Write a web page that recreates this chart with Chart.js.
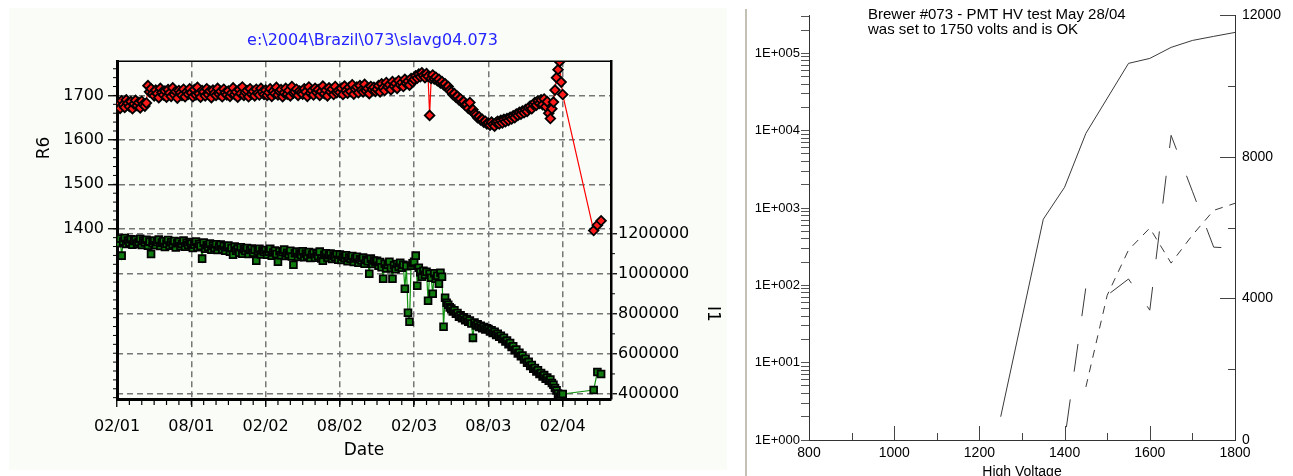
<!DOCTYPE html>
<html>
<head>
<meta charset="utf-8">
<title>Brewer #073</title>
<script src="https://cdn.jsdelivr.net/npm/chart.js@4.4.1/dist/chart.umd.min.js"></script>
<style>
  html, body { margin: 0; padding: 0; background: #fff; }
  body { width: 1293px; height: 476px; position: relative; overflow: hidden; }
  #leftPanel { position: absolute; left: 9px; top: 8px; width: 718px; height: 462px; background: #fafcf7; }
  #sep { position: absolute; left: 745px; top: 9px; width: 2px; height: 467px; background: #c4c0b6; }
  #leftChart { position: absolute; left: 0; top: 0; }
  #rightChart { position: absolute; left: 746px; top: 0; }
</style>
</head>
<body>
<div id="leftPanel"></div>
<div id="sep"></div>
<canvas id="leftChart" width="745" height="476"></canvas>
<canvas id="rightChart" width="547" height="476"></canvas>
<script>
// ===============================
// Brewer #073 - R6 / I1 history + PMT HV test
// ===============================

// ---------- Left panel data ----------

const dateTickMonths = [0, 6, 12, 18, 24, 30, 36];
const dateTickLabels = ["02/01", "08/01", "02/02", "08/02", "02/03", "08/03", "02/04"];
const r6Ticks = [1400, 1500, 1600, 1700];
const i1Ticks = [400000, 600000, 800000, 1000000, 1200000];

// months since Feb 2001
const months = [
    0, 0.125, 0.25, 0.375, 0.5, 0.625, 0.75, 0.875, 1, 1.125, 1.25, 1.375, 1.5, 1.625, 1.75, 1.875, 2, 2.125, 2.25, 2.375, 2.5, 2.625, 2.75, 2.875,
    3, 3.125, 3.25, 3.375, 3.5, 3.625, 3.75, 3.875, 4, 4.125, 4.25, 4.375, 4.5, 4.625, 4.75, 4.875, 5, 5.125, 5.25, 5.375, 5.5, 5.625, 5.75, 5.875,
    6, 6.125, 6.25, 6.375, 6.5, 6.625, 6.75, 6.875, 7, 7.125, 7.25, 7.375, 7.5, 7.625, 7.75, 7.875, 8, 8.125, 8.25, 8.375, 8.5, 8.625, 8.75, 8.875,
    9, 9.125, 9.25, 9.375, 9.5, 9.625, 9.75, 9.875, 10, 10.125, 10.25, 10.375, 10.5, 10.625, 10.75, 10.875, 11, 11.125, 11.25, 11.375, 11.5, 11.625, 11.75, 11.875,
    12, 12.125, 12.25, 12.375, 12.5, 12.625, 12.75, 12.875, 13, 13.125, 13.25, 13.375, 13.5, 13.625, 13.75, 13.875, 14, 14.125, 14.25, 14.375, 14.5, 14.625, 14.75, 14.875,
    15, 15.125, 15.25, 15.375, 15.5, 15.625, 15.75, 15.875, 16, 16.125, 16.25, 16.375, 16.5, 16.625, 16.75, 16.875, 17, 17.125, 17.25, 17.375, 17.5, 17.625, 17.75, 17.875,
    18, 18.125, 18.25, 18.375, 18.5, 18.625, 18.75, 18.875, 19, 19.125, 19.25, 19.375, 19.5, 19.625, 19.75, 19.875, 20, 20.125, 20.25, 20.375, 20.5, 20.625, 20.75, 20.875,
    21, 21.125, 21.25, 21.375, 21.5, 21.625, 21.75, 21.875, 22, 22.125, 22.25, 22.375, 22.5, 22.625, 22.75, 22.875, 23, 23.125, 23.25, 23.375, 23.5, 23.625, 23.75, 23.875,
    24, 24.125, 24.25, 24.375, 24.5, 24.625, 24.75, 24.875, 25, 25.125, 25.25, 25.375, 25.5, 25.625, 25.75, 25.875, 26, 26.125, 26.25, 26.375, 26.5, 26.625, 26.75, 26.875,
    27, 27.125, 27.25, 27.375, 27.5, 27.625, 27.75, 27.875, 28, 28.125, 28.25, 28.375, 28.5, 28.625, 28.75, 28.875, 29, 29.125, 29.25, 29.375, 29.5, 29.625, 29.75, 29.875,
    30, 30.125, 30.25, 30.375, 30.5, 30.625, 30.75, 30.875, 31, 31.125, 31.25, 31.375, 31.5, 31.625, 31.75, 31.875, 32, 32.125, 32.25, 32.375, 32.5, 32.625, 32.75, 32.875,
    33, 33.125, 33.25, 33.375, 33.5, 33.625, 33.75, 33.875, 34, 34.125, 34.25, 34.375, 34.5, 34.625, 34.75, 34.875, 35, 35.125, 35.25, 35.375, 35.5, 35.625, 35.75, 35.875,
    36, 38.5, 38.8, 39.1
];

const r6Values = [
    1676, 1684, 1671, 1688, 1679, 1673, 1690, 1682, 1675, 1686, 1670, 1681, 1689, 1677, 1684, 1672, 1687, 1680, 1676, 1683, 1722, 1708, 1715, 1704,
    1699, 1712, 1704, 1695, 1716, 1707, 1701, 1710, 1696, 1713, 1705, 1698, 1717, 1702, 1709, 1694, 1711, 1706, 1700, 1714, 1697, 1708, 1703, 1715,
    1706, 1697, 1713, 1701, 1718, 1704, 1696, 1711, 1708, 1699, 1715, 1702, 1710, 1695, 1712, 1705, 1700, 1716, 1703, 1709, 1697, 1714, 1706, 1701,
    1710, 1698, 1705, 1717, 1702, 1708, 1696, 1713, 1704, 1719, 1700, 1707, 1711, 1697, 1715, 1703, 1709, 1699, 1714, 1705, 1701, 1716, 1708, 1702,
    1712, 1700, 1707, 1715, 1698, 1710, 1704, 1718, 1701, 1709, 1713, 1697, 1706, 1716, 1703, 1711, 1699, 1720, 1705, 1708, 1714, 1700, 1710, 1706,
    1703, 1715, 1708, 1698, 1719, 1705, 1711, 1701, 1716, 1707, 1713, 1700, 1709, 1721, 1704, 1712, 1699, 1717, 1708, 1714, 1702, 1720, 1706, 1711,
    1707, 1716, 1702, 1721, 1711, 1705, 1718, 1709, 1724, 1703, 1714, 1719, 1706, 1722, 1712, 1708, 1725, 1710, 1716, 1704, 1720, 1713, 1718, 1709,
    1714, 1722, 1708, 1726, 1717, 1711, 1729, 1719, 1724, 1713, 1731, 1721, 1727, 1716, 1733, 1724, 1729, 1720, 1736, 1727, 1732, 1723, 1738, 1730,
    1736, 1744, 1739, 1748, 1742, 1751, 1745, 1740, 1749, 1743, 1655, 1738, 1746, 1737, 1741, 1733, 1736, 1728, 1731, 1724, 1726, 1718, 1720, 1712,
    1708, 1702, 1704, 1696, 1698, 1690, 1692, 1684, 1686, 1678, 1680, 1671, 1684, 1666, 1668, 1659, 1656, 1650, 1652, 1645, 1646, 1640, 1642, 1636,
    1638, 1633, 1640, 1635, 1631, 1639, 1642, 1636, 1644, 1638, 1646, 1641, 1648, 1644, 1651, 1647, 1654, 1650, 1658, 1655, 1662, 1658, 1665, 1661,
    1668, 1664, 1672, 1676, 1670, 1680, 1684, 1678, 1688, 1682, 1690, 1679, 1692, 1675, 1686, 1660, 1648, 1670, 1685, 1712, 1740, 1758, 1776, 1730,
    1702, 1396, 1408, 1418
];

const i1Values = [
    1168000, 1152000, 1175000, 1090000, 1160000, 1178000, 1148000, 1166000, 1155000, 1172000, 1145000, 1163000, 1170000, 1150000, 1158000, 1174000, 1143000, 1165000, 1156000, 1169000, 1140000, 1160000, 1098000, 1152000,
    1165000, 1142000, 1158000, 1170000, 1138000, 1155000, 1162000, 1133000, 1150000, 1168000, 1140000, 1157000, 1146000, 1163000, 1131000, 1152000, 1160000, 1137000, 1148000, 1165000, 1135000, 1154000, 1143000, 1158000,
    1150000, 1128000, 1145000, 1160000, 1132000, 1148000, 1138000, 1075000, 1155000, 1125000, 1142000, 1133000, 1150000, 1120000, 1140000, 1128000, 1147000, 1118000, 1136000, 1145000, 1122000, 1138000, 1115000, 1132000,
    1140000, 1110000, 1128000, 1095000, 1135000, 1115000, 1125000, 1105000, 1132000, 1100000, 1122000, 1113000, 1128000, 1098000, 1118000, 1126000, 1104000, 1120000, 1065000, 1112000, 1124000, 1096000, 1116000, 1108000,
    1118000, 1095000, 1110000, 1124000, 1090000, 1106000, 1115000, 1098000, 1060000, 1112000, 1092000, 1108000, 1120000, 1088000, 1104000, 1096000, 1114000, 1086000, 1045000, 1102000, 1110000, 1083000, 1100000, 1092000,
    1112000, 1082000, 1100000, 1090000, 1108000, 1078000, 1096000, 1104000, 1080000, 1098000, 1088000, 1110000, 1076000, 1065000, 1094000, 1102000, 1079000, 1092000, 1100000, 1074000, 1090000, 1083000, 1097000, 1070000,
    1095000, 1068000, 1086000, 1078000, 1092000, 1062000, 1080000, 1074000, 1088000, 1058000, 1076000, 1084000, 1055000, 1072000, 1066000, 1080000, 1050000, 1070000, 1062000, 1000000, 1075000, 1048000, 1066000, 1058000,
    1065000, 1040000, 1058000, 1032000, 975000, 1050000, 1026000, 1045000, 1060000, 1028000, 975000, 1042000, 1022000, 1048000, 1035000, 1055000, 1030000, 1045000, 925000, 1038000, 805000, 760000, 1040000, 1052000,
    1060000, 1090000, 940000, 1030000, 1008000, 985000, 1015000, 995000, 1010000, 865000, 1000000, 980000, 900000, 1002000, 975000, 990000, 950000, 1005000, 985000, 735000, 880000, 855000, 845000, 832000,
    826000, 812000, 818000, 800000, 804000, 786000, 792000, 778000, 782000, 768000, 774000, 760000, 766000, 752000, 680000, 756000, 742000, 748000, 734000, 740000, 728000, 734000, 722000, 728000,
    724000, 712000, 718000, 704000, 710000, 695000, 700000, 686000, 690000, 674000, 680000, 662000, 666000, 648000, 654000, 634000, 638000, 618000, 622000, 602000, 606000, 588000, 592000, 572000,
    576000, 556000, 560000, 540000, 545000, 526000, 530000, 512000, 518000, 500000, 505000, 488000, 494000, 476000, 482000, 466000, 472000, 455000, 446000, 430000, 418000, 402000, 386000, 398000,
    400000, 420000, 510000, 500000
];

// ---------- Right panel data ----------

const hvVolts = [1250, 1300, 1350, 1400, 1450, 1500, 1550, 1600, 1650, 1700, 1750, 1800];
const countsSolid = [2, null, 717, 1860, 9250, null, 74300, 86100, 119600, 147000, 166000, 186700];
const ratioLongDash = [null, null, null, 0, 4320, 4090, 4550, 3670, 8610, 7030, 5450, 5420];
const ratioShortDash = [null, null, null, null, 1500, 4090, 5370, 5990, 5000, 5790, 6490, 6690];

const hvTicks = [800, 1000, 1200, 1400, 1600, 1800];
const logDecades = [1, 10, 100, 1000, 10000, 100000];
const logSteps = [1, 2, 3, 4, 5, 6, 7, 8, 9];
const linTicks = [0, 4000, 8000, 12000];

const LEFT_FONT = "DejaVu Sans";
const RIGHT_FONT = "Liberation Sans";

// ---------- Left chart decorations ----------

const leftDecor = {
    id: "leftDecor",
    afterDraw(chart) {
        const { ctx, chartArea: area, scales } = chart;
        ctx.save();
        ctx.strokeStyle = "#000";

        // thin top frame line
        ctx.lineWidth = 1.5;
        ctx.beginPath();
        ctx.moveTo(area.left, area.top);
        ctx.lineTo(area.right, area.top);
        ctx.stroke();

        // monthly ticks under the date axis
        ctx.lineWidth = 1.2;
        for (let m = 1; m <= 39; m++) {
            const x = scales.x.getPixelForValue(m);
            ctx.beginPath();
            ctx.moveTo(x, area.bottom);
            ctx.lineTo(x, area.bottom + 6);
            ctx.stroke();
        }

        // small ticks on the R6 axis
        ctx.lineWidth = 1;
        for (let v = 1020; v <= 1760; v += 20) {
            const y = scales.y.getPixelForValue(v);
            ctx.beginPath();
            ctx.moveTo(area.left - 4, y);
            ctx.lineTo(area.left, y);
            ctx.stroke();
        }

        // small ticks on the I1 axis
        for (let v = 500000; v <= 1100000; v += 200000) {
            const y = scales.y1.getPixelForValue(v);
            ctx.beginPath();
            ctx.moveTo(area.right, y);
            ctx.lineTo(area.right + 4, y);
            ctx.stroke();
        }

        // axis titles
        ctx.fillStyle = "#000";
        ctx.font = "17px '" + LEFT_FONT + "'";
        ctx.textAlign = "center";
        ctx.textBaseline = "middle";

        ctx.save();
        ctx.translate(45, 148);
        ctx.rotate(-Math.PI / 2);
        ctx.fillText("R6", 0, 0);
        ctx.restore();

        ctx.save();
        ctx.translate(712, 314);
        ctx.rotate(Math.PI / 2);
        ctx.fillText("I1", 0, 0);
        ctx.restore();

        ctx.restore();
    }
};

const gridDash = [6, 4];

new Chart(document.getElementById("leftChart"), {
    type: "line",
    data: {
        datasets: [{
            label: "R6",
            data: months.map((m, i) => ({ x: m, y: r6Values[i] })),
            yAxisID: "y",
            borderColor: "#ff0000",
            borderWidth: 1.2,
            pointStyle: "rectRot",
            pointRadius: 4.8,
            pointBackgroundColor: "#ff1a1a",
            pointBorderColor: "#000",
            pointBorderWidth: 1.8
        }, {
            label: "I1",
            data: months.map((m, i) => ({ x: m, y: i1Values[i] })),
            yAxisID: "y1",
            borderColor: "#129412",
            borderWidth: 1.2,
            pointStyle: "rect",
            pointRadius: 4.8,
            pointBackgroundColor: "#107c10",
            pointBorderColor: "#000",
            pointBorderWidth: 1.8
        }]
    },
    options: {
        responsive: false,
        animation: false,
        events: [],
        layout: { padding: 0 },
        plugins: {
            legend: { display: false },
            tooltip: { enabled: false },
            title: {
                display: true,
                text: "e:\\2004\\Brazil\\073\\slavg04.073",
                color: "#2424ff",
                font: { family: LEFT_FONT, size: 16, weight: "normal" },
                padding: { top: 31, bottom: 11 }
            }
        },
        scales: {
            x: {
                type: "linear",
                min: 0,
                max: 39.9,
                afterBuildTicks: s => { s.ticks = dateTickMonths.map(v => ({ value: v })); },
                afterFit: s => { s.height = 77; },
                ticks: {
                    callback: (v, i) => dateTickLabels[i],
                    color: "#000",
                    font: { family: LEFT_FONT, size: 16 },
                    padding: 10,
                    autoSkip: false,
                    maxRotation: 0
                },
                grid: { color: "#777", lineWidth: 1.5, tickColor: "#000", tickLength: 8, tickWidth: 1.3, tickBorderDash: [] },
                border: { display: true, color: "#000", width: 3, dash: gridDash },
                title: {
                    display: true,
                    text: "Date",
                    color: "#000",
                    font: { family: LEFT_FONT, size: 17 },
                    padding: { top: 0, bottom: 15 }
                }
            },
            y: {
                type: "linear",
                position: "left",
                min: 1017,
                max: 1777,
                afterBuildTicks: s => { s.ticks = r6Ticks.map(v => ({ value: v })); },
                afterFit: s => { s.width = 117; },
                ticks: {
                    callback: v => String(v),
                    color: "#000",
                    font: { family: LEFT_FONT, size: 16 },
                    padding: 4,
                    autoSkip: false
                },
                grid: { color: "#777", lineWidth: 1.5, tickColor: "#000", tickLength: 9, tickWidth: 1.3, tickBorderDash: [] },
                border: { display: true, color: "#000", width: 3, dash: gridDash }
            },
            y1: {
                type: "linear",
                position: "right",
                min: 375000,
                max: 2060000,
                afterBuildTicks: s => { s.ticks = i1Ticks.map(v => ({ value: v })); },
                afterFit: s => { s.width = 134; },
                ticks: {
                    callback: v => String(v),
                    color: "#000",
                    font: { family: LEFT_FONT, size: 16 },
                    padding: 1,
                    autoSkip: false
                },
                grid: { color: "#777", lineWidth: 1.5, tickColor: "#000", tickLength: 6, tickWidth: 1.3, tickBorderDash: [] },
                border: { display: true, color: "#000", width: 2.5, dash: gridDash }
            }
        }
    },
    plugins: [leftDecor]
});

// ---------- Right chart decorations ----------

const rightDecor = {
    id: "rightDecor",
    afterDraw(chart) {
        const { ctx, chartArea: area, scales } = chart;
        ctx.save();
        ctx.strokeStyle = "#444";
        ctx.lineWidth = 1;

        // inside ticks on the voltage axis
        for (let v = 900; v < 1800; v += 100) {
            const x = Math.round(scales.x.getPixelForValue(v)) + 0.5;
            const len = v % 200 === 0 ? 14 : 7;
            ctx.beginPath();
            ctx.moveTo(x, area.bottom);
            ctx.lineTo(x, area.bottom - len);
            ctx.stroke();
        }

        // inside ticks on the right axis
        for (let v = 2000; v <= 12000; v += 2000) {
            const y = Math.round(scales.yLin.getPixelForValue(v)) + 0.5;
            const len = v % 4000 === 0 ? 15 : 7;
            ctx.beginPath();
            ctx.moveTo(area.right, y);
            ctx.lineTo(area.right - len, y);
            ctx.stroke();
        }

        // note
        ctx.fillStyle = "#000";
        ctx.font = "15px '" + RIGHT_FONT + "'";
        ctx.textAlign = "left";
        ctx.textBaseline = "alphabetic";
        ctx.fillText("Brewer #073 - PMT HV test May 28/04", 122, 18.5);
        ctx.fillText("was set to 1750 volts and is OK", 122, 33.5);

        ctx.restore();
    }
};

const logTickValues = [];
logDecades.forEach(d => {
    logSteps.forEach(m => {
        if (d * m <= 310000) logTickValues.push(d * m);
    });
});

const lineBase = {
    borderColor: "#3a3a3a",
    borderWidth: 1,
    pointRadius: 0,
    spanGaps: true,
    tension: 0
};

new Chart(document.getElementById("rightChart"), {
    type: "line",
    data: {
        datasets: [
            Object.assign({
                label: "counts",
                data: hvVolts.map((v, i) => ({ x: v, y: countsSolid[i] })),
                yAxisID: "yLog"
            }, lineBase),
            Object.assign({
                label: "long dash",
                data: hvVolts.map((v, i) => ({ x: v, y: ratioLongDash[i] })),
                yAxisID: "yLin",
                borderDash: [28, 28],
                borderDashOffset: 43
            }, lineBase),
            Object.assign({
                label: "short dash",
                data: hvVolts.map((v, i) => ({ x: v, y: ratioShortDash[i] })),
                yAxisID: "yLin",
                borderDash: [8, 7]
            }, lineBase)
        ]
    },
    options: {
        responsive: false,
        animation: false,
        events: [],
        layout: { padding: { top: 15, left: 0, right: 0, bottom: 0 } },
        plugins: {
            legend: { display: false },
            tooltip: { enabled: false }
        },
        scales: {
            x: {
                type: "linear",
                min: 800,
                max: 1800,
                afterBuildTicks: s => { s.ticks = hvTicks.map(v => ({ value: v })); },
                afterFit: s => { s.height = 36; },
                ticks: {
                    callback: v => String(v),
                    color: "#000",
                    font: { family: RIGHT_FONT, size: 14 },
                    padding: 5,
                    autoSkip: false,
                    maxRotation: 0
                },
                grid: { display: false, drawTicks: false },
                border: { display: true, color: "#333", width: 1 },
                title: {
                    display: true,
                    text: "High Voltage",
                    color: "#000",
                    font: { family: RIGHT_FONT, size: 14 },
                    padding: { top: 0, bottom: -5 }
                }
            },
            yLog: {
                type: "logarithmic",
                position: "left",
                min: 1,
                max: 310000,
                afterBuildTicks: s => { s.ticks = logTickValues.map(v => ({ value: v })); },
                afterFit: s => { s.width = 63; },
                ticks: {
                    autoSkip: false,
                    callback: v => logDecades.includes(v)
                        ? "1E+" + String(Math.round(Math.log10(v))).padStart(3, "0")
                        : "",
                    color: "#000",
                    font: { family: RIGHT_FONT, size: 13 },
                    padding: 1
                },
                grid: { drawOnChartArea: false, drawTicks: true, tickLength: 8, tickColor: "#555", tickWidth: 1 },
                border: { display: true, color: "#333", width: 1 }
            },
            yLin: {
                type: "linear",
                position: "right",
                min: 0,
                max: 12000,
                afterBuildTicks: s => { s.ticks = linTicks.map(v => ({ value: v })); },
                afterFit: s => { s.width = 58; },
                ticks: {
                    callback: v => String(v),
                    color: "#000",
                    font: { family: RIGHT_FONT, size: 14 },
                    padding: 7,
                    autoSkip: false
                },
                grid: { display: false, drawTicks: false },
                border: { display: true, color: "#333", width: 1 }
            }
        }
    },
    plugins: [rightDecor]
});
</script>
</body>
</html>
